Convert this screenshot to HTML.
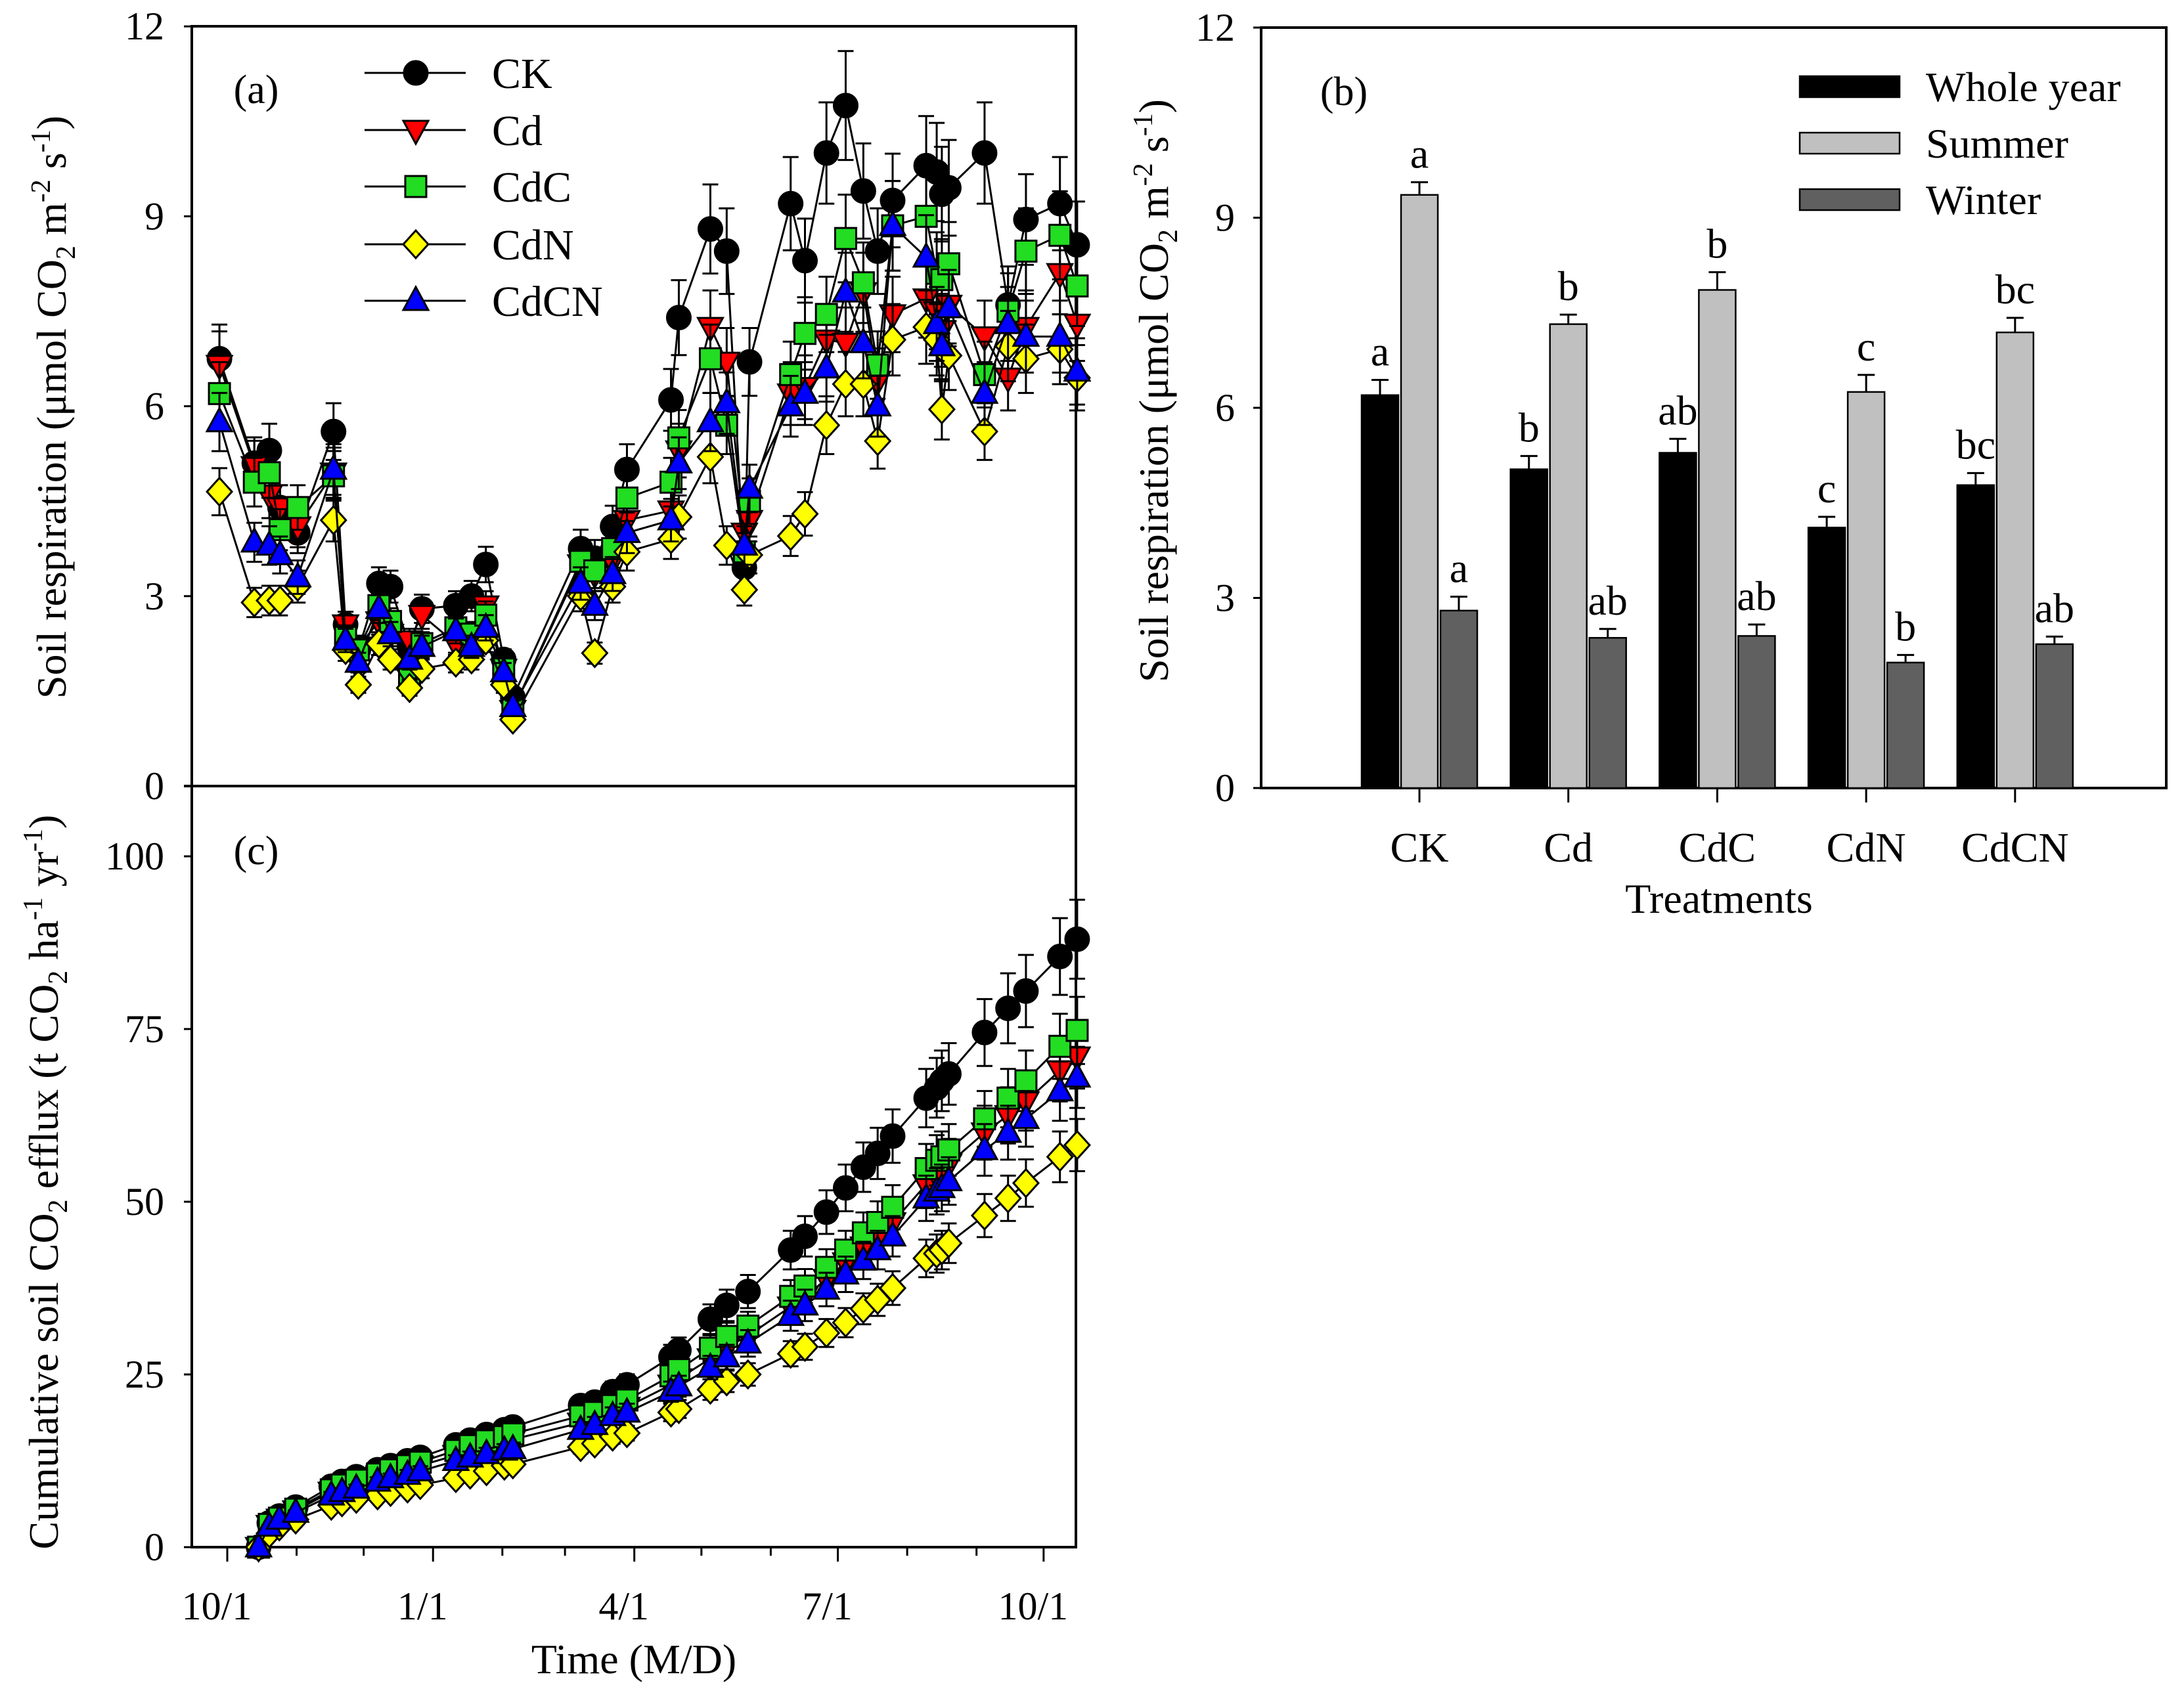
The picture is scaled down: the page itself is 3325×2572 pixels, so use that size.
<!DOCTYPE html>
<html><head><meta charset="utf-8"><style>
html,body{margin:0;padding:0;background:#fff;}
svg{display:block;font-family:"Liberation Serif",serif;}
</style></head><body>
<svg id="chart" xmlns="http://www.w3.org/2000/svg" width="3325" height="2572" viewBox="0 0 3325 2572">
<rect x="0" y="0" width="3325" height="2572" fill="#fff"/>
</svg>
<script>
// ---------- Panel (a) data: soil respiration ----------
const daysA = [-3.5,12.1,18.8,23.6,31.5,47.5,52.9,58.6,67.8,73,81.5,87,102.2,109.2,115.6,123.6,127.7,158,164.3,172.3,178.7,198.4,201.9,216,223.3,231.2,233.5,251.9,258.3,267.9,276.5,284.4,290.8,297.5,312.5,317.2,319.5,322.6,338.6,349.1,357.1,372.3,380];
const aCK   = [6.75,5.1,5.3,4.4,4.0,5.6,2.55,2.15,3.2,3.15,2.2,2.8,2.85,3.0,3.5,2.0,1.4,3.75,3.6,4.1,5.0,6.1,7.4,8.8,8.45,3.45,6.7,9.2,8.3,10.0,10.75,9.4,8.45,9.25,9.8,9.7,9.35,9.45,10.0,7.6,8.95,9.2,8.55];
const aCd   = [6.65,5.05,4.6,4.4,4.1,4.95,2.55,2.2,2.6,2.4,2.3,2.7,2.25,2.3,2.85,1.85,1.2,3.5,3.35,3.55,4.2,4.35,5.3,7.25,6.7,4.0,4.2,6.2,6.3,7.05,7.0,7.8,6.4,7.45,7.7,7.5,7.2,7.6,7.1,6.45,7.25,8.1,7.3];
const aCdC  = [6.2,4.8,4.95,4.05,4.4,4.9,2.35,2.15,2.85,2.6,1.75,2.25,2.5,2.4,2.7,1.85,1.2,3.55,3.4,3.75,4.55,4.8,5.5,6.75,5.7,3.7,4.5,6.5,7.15,7.45,8.65,7.95,6.65,8.85,9.0,8.1,8.0,8.25,6.5,7.5,8.45,8.7,7.9];
const aCdN  = [4.65,2.9,2.93,2.93,3.15,4.2,2.15,1.6,2.25,2.0,1.55,1.85,1.95,2.0,2.3,1.6,1.05,3.0,2.1,3.15,3.7,3.9,4.25,5.2,3.8,3.1,3.65,3.95,4.3,5.7,6.35,6.35,5.45,7.05,7.25,7.05,5.95,6.8,5.6,6.95,6.75,6.9,6.45];
const aCdCN = [5.75,3.85,3.8,3.65,3.3,5.0,2.3,1.95,2.8,2.4,2.0,2.2,2.45,2.2,2.5,1.8,1.25,3.2,2.85,3.35,4.0,4.2,5.1,5.75,6.05,3.8,4.7,6.0,6.2,6.6,7.8,7.0,6.0,8.85,8.35,7.3,6.95,7.55,6.2,7.3,7.1,7.1,6.55];
// ---------- Panel (c) data: cumulative efflux ----------
const daysC = [14,18.8,23.3,30.6,46.5,51.3,57.7,67.2,73,80.6,86.3,102.2,108.6,115.9,123.9,127.7,158,164.3,172.3,178.7,198.4,201.9,216,223.3,232.8,251.9,258.3,267.9,276.5,284.4,290.8,297.5,312.5,317.2,319.5,322.6,338.6,349.1,357.1,372.3,380];
const cCK   = [0,3.5,4.5,5.8,8.8,9.5,10.2,11.2,11.8,12.5,13.0,14.8,15.5,16.3,17.0,17.4,20.5,21.0,22.5,23.5,27.5,28.5,33.0,35.0,37.0,43.0,45.0,48.5,52.0,55.0,57.0,59.5,65.0,66.5,67.5,68.5,74.5,78.0,80.5,85.5,88.0];
const cCd   = [0,3.2,4.1,5.3,8,8.6,9.2,10.1,10.7,11.3,11.8,13.3,14,14.6,15.2,15.6,18,18.6,19.6,20.3,23.5,24.4,27.3,28.9,30.6,34.8,36.3,38.8,41.2,43.5,45,47,52.5,53.8,54.3,55.5,60,62.5,64.5,69,71];
const cCdC  = [0,3.3,4.2,5.5,8.3,9.0,9.7,10.6,11.2,11.8,12.3,14.0,14.7,15.4,16.0,16.4,19.0,19.5,20.5,21.3,24.8,25.7,28.8,30.5,32.0,36.3,37.8,40.5,43.0,45.5,47.0,49.2,54.8,56.0,56.5,57.5,62.0,65.0,67.5,72.5,74.8];
const cCdN  = [0,2,3,4,6,6.5,7,7.5,8,8.5,9,10,10.5,11,11.8,12,14.5,15,16,16.5,19.5,20,22.8,24,25,28,29,31,32.5,34.5,35.8,37.5,41.8,42.5,43,44,48,50.5,52.7,56.5,58.2];
const cCdCN = [0,3,4,5,7.5,8,8.5,9.5,10,10.5,11,12.5,13,13.5,14,14.2,17,17.7,19,19.5,22.5,23.3,26,27.5,29.5,33.5,35,37.3,39.5,41.5,43,45,50.5,51.5,52,53,57.5,60,62,66,68];
// ---------- Panel (b) data ----------
const treatments = ["CK","Cd","CdC","CdN","CdCN"];
const wholeYear = [6.2,5.03,5.29,4.11,4.78];
const wholeErr  = [0.24,0.21,0.22,0.17,0.19];
const summer    = [9.36,7.32,7.86,6.25,7.19];
const summerErr = [0.2,0.15,0.28,0.27,0.23];
const winter    = [2.8,2.37,2.4,1.98,2.27];
const winterErr = [0.22,0.14,0.18,0.12,0.12];
const lettersWhole  = ["a","b","ab","c","bc"];
const lettersSummer = ["a","b","b","c","bc"];
const lettersWinter = ["a","ab","ab","b","ab"];
const ticksA = [0,3,6,9,12];
const ticksC = [0,25,50,75,100];
const monthTicks = [0,31,61,92,123,151,182,212,243,273,304,335,365];
const majorTicks = [0,92,182,273,365];
const majorLabels = ["10/1","1/1","4/1","7/1","10/1"];

const NS="http://www.w3.org/2000/svg";
const svg=document.getElementById('chart');
function mk(tag,attrs,parent){const e=document.createElementNS(NS,tag);for(const k in attrs)e.setAttribute(k,attrs[k]);(parent||svg).appendChild(e);return e;}

// scales
const xD = d => 346 + 3.405*d;
const yA = v => 1197 - 96.4*v;
const yC = v => 2356 - 10.52*v;
const yB = v => 1200 - 96.5*v;
const xB = i => 2161 + 226.7*i;

const FS=60;
// ---- Frames ----
let f=mk('rect',{x:292,y:40,width:1346,height:2316,fill:'none',stroke:'#000','stroke-width':4});


let zl=mk('line',{x1:280,x2:1638,y1:1197,y2:1197,stroke:'#000','stroke-width':4});


let fb=mk('rect',{x:1920,y:42,width:1378,height:1158,fill:'none',stroke:'#000','stroke-width':4});



function txt(x,y,s,opts,name){const t=mk('text',Object.assign({x:x,y:y,'font-size':FS,fill:'#000'},opts||{}));t.textContent=s;return t;}

// y ticks a
ticksA.forEach(v=>{
  if(v>0){const l=mk('line',{x1:280,x2:292,y1:yA(v),y2:yA(v),stroke:'#000','stroke-width':3});}
  txt(250,yA(v)+20,String(v),{'text-anchor':'end'},'y-tick-label-a');
});
ticksC.forEach(v=>{
  const l=mk('line',{x1:280,x2:292,y1:yC(v),y2:yC(v),stroke:'#000','stroke-width':3});
  txt(250,yC(v)+20,String(v),{'text-anchor':'end'},'y-tick-label-c');
});
// x ticks c
monthTicks.forEach(d=>{
  const major=majorTicks.indexOf(d)>=0;
  const l=mk('line',{x1:xD(d),x2:xD(d),y1:2356,y2:2356+(major?22:13),stroke:'#000','stroke-width':3});
  
  
});
majorTicks.forEach((d,i)=>txt(xD(d)-16,2466,majorLabels[i],{'text-anchor':'middle'},'x-tick-label'));
txt(965,2548,'Time (M/D)',{'text-anchor':'middle','font-size':64},'x-axis-title');
txt(390,157,'(a)',{'text-anchor':'middle','font-size':62},'panel-a-label');
txt(390,1316,'(c)',{'text-anchor':'middle','font-size':62},'panel-c-label');

// rotated axis titles
function rotTitle(cx,cy,parts,name){
  const t=mk('text',{x:0,y:0,'font-size':64,'text-anchor':'middle',transform:`translate(${cx},${cy}) rotate(-90)`});
  
  
  parts.forEach(p=>{const s=mk('tspan',p.sub?{'font-size':42,dy:14}:p.sup?{'font-size':42,dy:-24}:{dy:p.dy||0},t);s.textContent=p.t;});
  return t;
}
rotTitle(100,620,[{t:'Soil respiration (μmol CO'},{t:'2',sub:1},{t:' m',dy:-14},{t:'-2',sup:1},{t:' s',dy:24},{t:'-1',sup:1},{t:')',dy:24}],'y-axis-title-a');
rotTitle(88,1800,[{t:'Cumulative soil CO'},{t:'2',sub:1},{t:' efflux (t CO',dy:-14},{t:'2',sub:1},{t:' ha',dy:-14},{t:'-1',sup:1},{t:' yr',dy:24},{t:'-1',sup:1},{t:')',dy:24}],'y-axis-title-c');
rotTitle(1778,595,[{t:'Soil respiration (μmol CO'},{t:'2',sub:1},{t:' m',dy:-14},{t:'-2',sup:1},{t:' s',dy:24},{t:'-1',sup:1},{t:')',dy:24}],'y-axis-title-b');

// markers
const styles=[{name:'CK',shape:'circle',fill:'#000'},{name:'Cd',shape:'tridown',fill:'#ff0000'},{name:'CdC',shape:'square',fill:'#22dd22'},{name:'CdN',shape:'diamond',fill:'#ffff00'},{name:'CdCN',shape:'triup',fill:'#0000ff'}];
function marker(shape,x,y,fill,g){
  const a={fill:fill,stroke:'#000','stroke-width':3};let e;
  if(shape==='circle')e=mk('circle',Object.assign({cx:x,cy:y,r:18},a),g);
  else if(shape==='square')e=mk('rect',Object.assign({x:x-16,y:y-16,width:32,height:32},a),g);
  else if(shape==='diamond')e=mk('polygon',Object.assign({points:`${x},${y-21} ${x+19},${y} ${x},${y+21} ${x-19},${y}`},a),g);
  else if(shape==='triup')e=mk('polygon',Object.assign({points:`${x},${y-21} ${x+19},${y+14} ${x-19},${y+14}`},a),g);
  else e=mk('polygon',Object.assign({points:`${x},${y+21} ${x+19},${y-14} ${x-19},${y-14}`},a),g);
  return e;
}
function series(days,vals,ys,st,errFrac,panel){
  const g=mk('g',{});
  
  
  // error bars
  vals.forEach((v,i)=>{
    const x=xD(days[i]),e=v*errFrac;
    if(e<=0)return;
    const eb=mk('path',{d:`M${x},${ys(v-e)}V${ys(v+e)}M${x-12},${ys(v+e)}h24M${x-12},${ys(v-e)}h24`,stroke:'#000','stroke-width':3,fill:'none'},g);
    
    
  });
  const pts=vals.map((v,i)=>xD(days[i])+','+ys(v)).join(' ');
  const pl=mk('polyline',{points:pts,fill:'none',stroke:'#000','stroke-width':3},g);
  
  
  vals.forEach((v,i)=>{
    const m=marker(st.shape,xD(days[i]),ys(v),st.fill,g);
    
    
  });
}
const aSeries=[aCK,aCd,aCdC,aCdN,aCdCN];
const cSeries=[cCK,cCd,cCdC,cCdN,cCdCN];
styles.forEach((st,k)=>series(daysA,aSeries[k],yA,st,0.08,'a'));
styles.forEach((st,k)=>series(daysC,cSeries[k],yC,st,0.065,'c'));

// legend a
const legY=[111,198,284,372,458];
styles.forEach((st,k)=>{
  const g=mk('g',{});
  
  
  mk('line',{x1:555,x2:709,y1:legY[k],y2:legY[k],stroke:'#000','stroke-width':3},g);
  marker(st.shape,633,legY[k],st.fill,g);
  const t=mk('text',{x:749,y:legY[k]+23,'font-size':66},g);t.textContent=st.name;
});

// panel b
[0,3,6,9,12].forEach(v=>{
  const l=mk('line',{x1:1908,x2:1920,y1:yB(v),y2:yB(v),stroke:'#000','stroke-width':3});
  txt(1880,yB(v)+20,String(v),{'text-anchor':'end'},'y-tick-label-b');
});
const barW=56, off=[-60,0,60];
const barSets=[[wholeYear,wholeErr,'#000',lettersWhole,'whole-year'],[summer,summerErr,'#c0c0c0',lettersSummer,'summer'],[winter,winterErr,'#606060',lettersWinter,'winter']];
treatments.forEach((tr,i)=>{
  const c=xB(i);
  const tk=mk('line',{x1:c,x2:c,y1:1200,y2:1222,stroke:'#000','stroke-width':3});
  
  
  txt(c,1312,tr,{'text-anchor':'middle','font-size':64},'category-label-'+tr.toLowerCase());
  barSets.forEach((bs,j)=>{
    const v=bs[0][i],e=bs[1][i],x=c+off[j];
    const r=mk('rect',{x:x-barW/2,y:yB(v),width:barW,height:yB(0)-yB(v),fill:bs[2],stroke:'#000','stroke-width':2.5});
    
    
    const eb=mk('path',{d:`M${x},${yB(v)}V${yB(v+e)}M${x-13},${yB(v+e)}h26`,stroke:'#000','stroke-width':3,fill:'none'});
    
    
    txt(x,yB(v+e)-22,bs[3][i],{'text-anchor':'middle','font-size':64},'significance-letter');
  });
});
txt(2617,1390,'Treatments',{'text-anchor':'middle','font-size':64},'x-axis-title-b');
txt(2046,160,'(b)',{'text-anchor':'middle','font-size':62},'panel-b-label');
const legB=[['Whole year','#000'],['Summer','#c0c0c0'],['Winter','#606060']];
const legBY=[132,218,304];
legB.forEach((l,k)=>{
  const g=mk('g',{});
  
  
  mk('rect',{x:2740,y:legBY[k]-16,width:152,height:32,fill:l[1],stroke:'#000','stroke-width':2.5},g);
  const t=mk('text',{x:2932,y:legBY[k]+22,'font-size':64},g);t.textContent=l[0];
});
</script>
</body></html>
